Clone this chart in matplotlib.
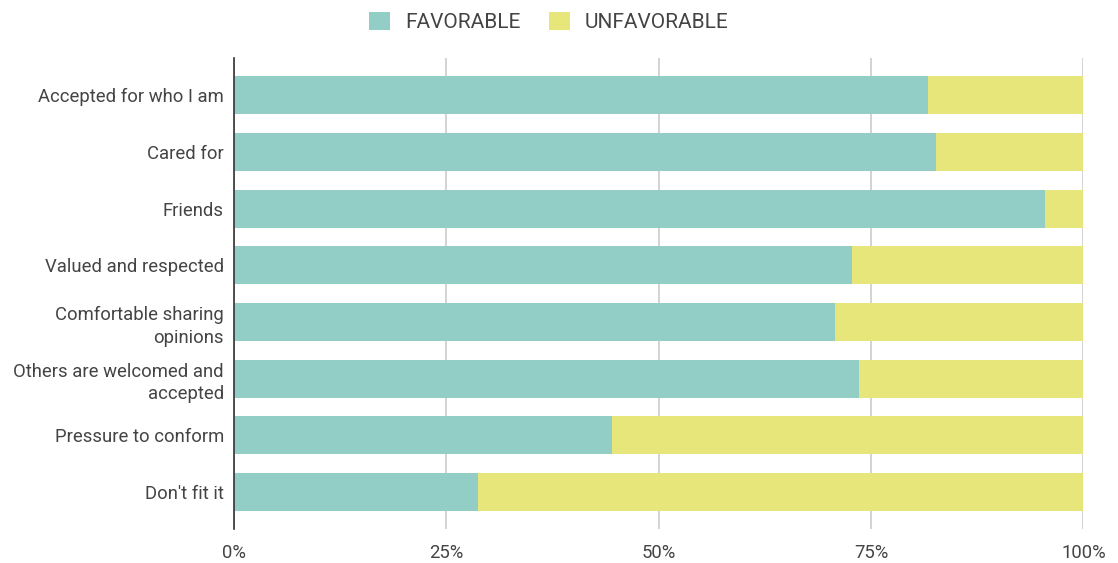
import matplotlib.pyplot as plt
from matplotlib.patches import Patch

plt.rcParams['font.family'] = ['Roboto', 'DejaVu Sans']

# Survey items, top to bottom
categories = ["Accepted for who I am", "Cared for", "Friends", "Valued and respected",
              "Comfortable sharing\nopinions", "Others are welcomed and\naccepted",
              "Pressure to conform", "Don't fit it"]
favorable = [81.7, 82.7, 95.5, 72.8, 70.8, 73.6, 44.5, 28.8]
unfavorable = [100 - v for v in favorable]

series_names = ["FAVORABLE", "UNFAVORABLE"]
colors = ["#93cec6", "#e6e67a"]
text_color = "#444444"

fig = plt.figure(figsize=(11.18, 5.63), dpi=100)
ax = fig.add_axes([0.209, 0.060, 0.760, 0.837])

y = list(range(len(categories)))
ax.barh(y, favorable, height=0.67, color=colors[0], zorder=3)
ax.barh(y, unfavorable, left=favorable, height=0.67, color=colors[1], zorder=3)

ax.set_xlim(0, 100)
ax.set_ylim(len(categories) - 0.34, -0.66)
ax.set_xticks([0, 25, 50, 75, 100])
ax.set_xticklabels(["0%", "25%", "50%", "75%", "100%"])
ax.set_yticks(y)
ax.set_yticklabels(categories, linespacing=1.35)

ax.grid(axis='x', color='#cccccc', linewidth=1.2, zorder=0)
for side in ['top', 'right', 'bottom']:
    ax.spines[side].set_visible(False)
ax.spines['left'].set_color('#333333')
ax.spines['left'].set_linewidth(1.2)
ax.spines['left'].set_zorder(4)
ax.tick_params(axis='both', length=0, labelsize=13.3, labelcolor=text_color)
ax.tick_params(axis='x', pad=11)
ax.tick_params(axis='y', pad=7)

handles = [Patch(facecolor=c, edgecolor='none') for c in colors]
fig.legend(handles, series_names, loc='center', bbox_to_anchor=(0.491, 0.961),
           ncol=2, frameon=False, fontsize=15, labelcolor=text_color,
           handlelength=1.0, handleheight=1.0, columnspacing=1.35, handletextpad=0.72,
           borderpad=0)

fig.savefig("out.png", dpi=100)
